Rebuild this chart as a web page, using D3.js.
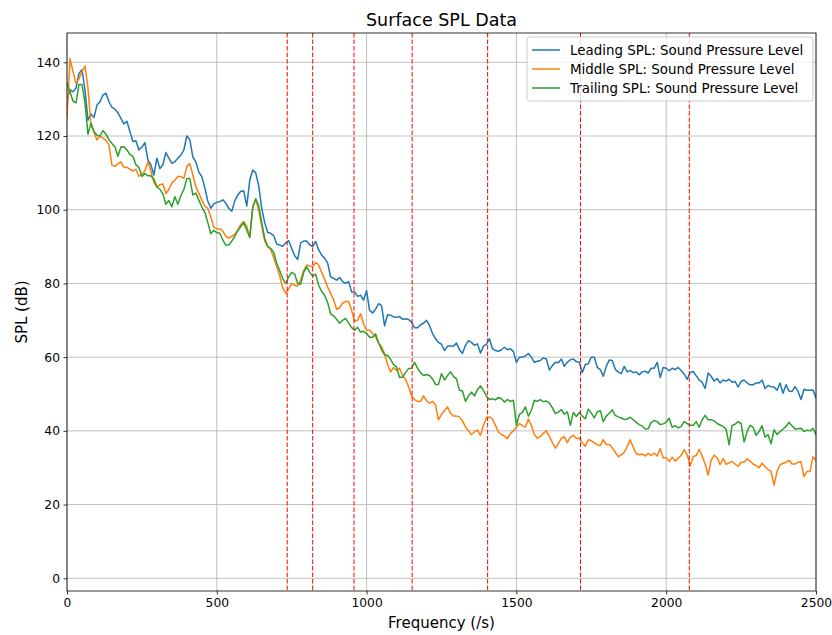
<!DOCTYPE html>
<html>
<head>
<meta charset="utf-8">
<script src="https://cdn.jsdelivr.net/npm/d3@7"></script>
<style>
  body { margin: 0; background: #fff; }
  svg { display: block; font-family: "DejaVu Sans", sans-serif; }
</style>
</head>
<body>
<div id="viz"></div>
<script>
var width = 832,
    height = 635;

var margin = {top: 33, right: 16, bottom: 44, left: 67};

// frequency samples (/s)
var freqs = [
  0, 10, 20, 30, 40, 50, 60, 70, 80, 90,
  100, 110, 120, 130, 140, 150, 160, 170, 180, 190,
  200, 210, 220, 230, 240, 250, 260, 270, 280, 290,
  300, 310, 320, 330, 340, 350, 360, 370, 380, 390,
  400, 410, 420, 430, 440, 450, 460, 470, 480, 490,
  500, 510, 520, 530, 540, 550, 560, 570, 580, 590,
  600, 610, 620, 630, 640, 650, 660, 670, 680, 690,
  700, 710, 720, 730, 740, 750, 760, 770, 780, 790,
  800, 810, 820, 830, 840, 850, 860, 870, 880, 890,
  900, 910, 920, 930, 940, 950, 960, 970, 980, 990,
  1000, 1010, 1020, 1030, 1040, 1050, 1060, 1070, 1080, 1090,
  1100, 1110, 1120, 1130, 1140, 1150, 1160, 1170, 1180, 1190,
  1200, 1210, 1220, 1230, 1240, 1250, 1260, 1270, 1280, 1290,
  1300, 1310, 1320, 1330, 1340, 1350, 1360, 1370, 1380, 1390,
  1400, 1410, 1420, 1430, 1440, 1450, 1460, 1470, 1480, 1490,
  1500, 1510, 1520, 1530, 1540, 1550, 1560, 1570, 1580, 1590,
  1600, 1610, 1620, 1630, 1640, 1650, 1660, 1670, 1680, 1690,
  1700, 1710, 1720, 1730, 1740, 1750, 1760, 1770, 1780, 1790,
  1800, 1810, 1820, 1830, 1840, 1850, 1860, 1870, 1880, 1890,
  1900, 1910, 1920, 1930, 1940, 1950, 1960, 1970, 1980, 1990,
  2000, 2010, 2020, 2030, 2040, 2050, 2060, 2070, 2080, 2090,
  2100, 2110, 2120, 2130, 2140, 2150, 2160, 2170, 2180, 2190,
  2200, 2210, 2220, 2230, 2240, 2250, 2260, 2270, 2280, 2290,
  2300, 2310, 2320, 2330, 2340, 2350, 2360, 2370, 2380, 2390,
  2400, 2410, 2420, 2430, 2440, 2450, 2460, 2470, 2480, 2490,
  2500
];

var leadingSPL = [
  130, 132.5, 132, 133, 137, 138, 132.5, 124.3, 126, 125,
  128.4, 129.3, 131.1, 131.6, 129.3, 127.8, 127.3, 126.3, 124.8, 123.3,
  124, 121.2, 118.5, 118.7, 116.2, 117, 118.2, 113.5, 112.2, 109.4,
  114, 111.2, 112.2, 115.5, 114, 112.6, 113, 114, 114.8, 116.2,
  120, 119, 114.3, 113, 110.2, 109, 106, 102.3, 100.4, 101.6,
  102, 102.2, 102.7, 101.8, 100.4, 99.6, 102.4, 104, 105, 105.1,
  101, 108, 110.8, 110, 106.5, 100.3, 96.5, 93.8, 93.6, 93,
  90.7, 90.4, 90.1, 91, 91.6, 89.5, 87.5, 86.5, 91, 91.5,
  91.5, 90.5, 90, 91.4, 89.1, 87.7, 86.8, 85.5, 81.8, 81.4,
  80.9, 81.6, 80.5, 80, 80.5, 77.7, 77.7, 76.5, 76.8, 75.5,
  78, 72.7, 72, 73, 74.5, 74, 68.5, 71.5, 71.4, 70.9,
  70.8, 71, 70.3, 70.4, 70.2, 69.5, 68, 68, 68.8, 69.2,
  70, 68.6, 66.4, 65, 64, 63.5, 61.8, 63, 63, 63,
  63.8, 62, 61, 63.2, 64.5, 64, 63.2, 63.6, 61.1, 63,
  63.5, 65, 62.3, 61.8, 61.6, 62, 62.7, 62, 62.3, 61.5,
  58.6, 60, 60, 60.3, 61, 60, 58.6, 58.9, 59.1, 59.8,
  59.5, 56.5, 57.7, 58.6, 58.5, 59.5, 57.5, 58.6, 59.3, 59.5,
  58.8, 58.6, 55.8, 58, 58.2, 60, 60, 57.2, 56.6, 54.8,
  57.5, 59.2, 59.1, 56.7, 56, 55.5, 57.5, 56, 56.4, 55.8,
  56, 55.2, 56, 56.2, 55.7, 57, 57, 58.6, 54.5, 57.2,
  57, 56.3, 57, 56.6, 57.2, 56.4, 55.4, 54, 55.8, 56.1,
  55, 53.8, 53.2, 51.5, 55.7, 54.8, 53.5, 54.2, 53, 53.8,
  53.5, 54, 53.2, 53.4, 51.9, 53.4, 53.8, 53, 52.5, 52.5,
  53, 53, 53.8, 51.5, 52.3, 52, 51.9, 51, 53, 50.2,
  52.5, 50.8, 50.7, 52, 50.7, 48.5, 51.3, 51, 51, 51.1,
  49
];

var middleSPL = [
  125, 141, 137.5, 134.3, 135.5, 137.5, 139, 133, 123, 121,
  118.9, 120, 119.4, 118.8, 117.5, 112.1, 111.8, 112.5, 113, 111.5,
  111.5, 111, 110.5, 111, 109.1, 109.6, 110.5, 113, 110.5, 107.4,
  106.2, 106.8, 107, 104.4, 105.5, 107.3, 108, 109, 109, 108.5,
  111.7, 112.5, 109.5, 106.2, 104.5, 102.6, 101, 100.4, 98, 95.2,
  94.8, 94.8, 94.2, 92.8, 92.3, 92.8, 93.3, 94.5, 96, 96.8,
  95.5, 92.5, 101, 102.8, 99.8, 95.4, 91.5, 90, 89.2, 87,
  84.6, 82, 78.8, 77.3, 78.5, 80, 79.5, 79.3, 81, 83.5,
  85, 84.7, 84.5, 85.7, 85, 83, 81.1, 79, 77.3, 75.5,
  73, 73.4, 74.7, 75.1, 75.1, 72.7, 69.8, 70, 71.8, 69,
  67.3, 67.3, 66.4, 65.5, 63.8, 62.8, 61, 58, 56, 57.2,
  56.4, 57, 55, 54, 52, 49.5, 48.5, 48, 48, 49.5,
  48.2, 47.5, 48, 47, 43, 44.5, 45.5, 46.5, 44.8, 44,
  44, 43.8, 42.7, 41.1, 40, 39, 39.7, 40.2, 38.8, 41.5,
  43.5, 43.8, 43.2, 41.5, 39.7, 39, 38.6, 37.9, 39.3, 40,
  41, 42, 41.4, 41, 43.2, 41.5, 39, 38, 38.5, 39.3,
  40, 38.5, 36.8, 35.3, 36.5, 38, 38.4, 36.8, 38.3, 38.8,
  38, 38, 36.8, 35.8, 37.6, 37.3, 36.8, 36.2, 36, 37.6,
  36.3, 36.3, 35.4, 34.2, 33, 33.5, 34.2, 35.8, 37.6, 35.5,
  33.8, 33.5, 33.7, 33.2, 33.9, 33.3, 34, 33.2, 35.2, 32.6,
  32.8, 31.7, 32.8, 31.8, 32.6, 33.3, 34.9, 33.5, 30.5, 33,
  33.3, 35, 33.2, 31, 28, 32, 33.4, 32.7, 30.8, 32.5,
  30.9, 31.3, 31.7, 31, 30.4, 31.5, 31.5, 32.4, 31.8, 31,
  30.6, 30, 31.2, 30.3, 29.5, 29, 25.3, 29, 30.8, 31.2,
  31.5, 32, 31, 31, 31.5, 31.6, 27.6, 29, 29, 33,
  32
];

var trailingSPL = [
  134.3, 132, 129.5, 129, 134, 134, 129, 120.5, 123.5, 121.2,
  120.2, 120, 121.5, 120.5, 119, 118, 117.1, 114.5, 117, 117.1,
  116.2, 115, 114.5, 112.2, 111.5, 109, 109.8, 109.2, 109.2, 108.3,
  106.2, 105.6, 104.3, 101.5, 102.5, 100.8, 103.5, 101.5, 103.8, 105.5,
  108.5, 108.5, 104, 104.5, 102.6, 100.8, 99.3, 96.5, 93.5, 94.4,
  93.8, 93.6, 91.8, 90.4, 90.4, 91.5, 92.8, 94.3, 95.4, 96.5,
  94.5, 92.5, 100.5, 103, 101, 96.5, 92.2, 90, 89.5, 88.5,
  85.5, 83.5, 81.3, 80, 81.8, 83, 82.5, 80, 79.8, 83,
  84.5, 83, 82, 82.5, 79.5, 77.8, 76.8, 74.8, 71.7, 71.2,
  70.3, 69.2, 70, 70.5, 69.3, 68, 67.3, 68.1, 66.8, 67,
  66.4, 65.4, 65.4, 66.3, 63.9, 62, 60.6, 60.5, 59.4, 58,
  57.3, 54.5, 54.6, 55.8, 56.9, 57, 58.6, 57, 55.8, 55,
  55.3, 55, 54.1, 52.6, 52.6, 55.5, 53.8, 55, 56, 54.8,
  54.1, 51, 50.8, 48, 49.5, 50.5, 49.5, 51.2, 52.2, 51,
  49.4, 48.5, 48.7, 48.4, 49.1, 48.7, 47.8, 48.5, 48, 48.3,
  41.5, 44.5, 45, 46.5, 44, 45.6, 48.3, 48, 48.5, 47.9,
  48.1, 47.5, 46.3, 44.7, 45.1, 45.8, 44.5, 45.2, 41.5, 45,
  43.9, 45, 44, 43.3, 45.9, 44.8, 43.5, 45.2, 45.5, 42.5,
  44, 44.8, 45.7, 44.2, 43.8, 43.5, 43.1, 43.2, 43.7, 43,
  42.3, 41.7, 41.3, 40.5, 40.6, 42.3, 42.8, 42.5, 41.7, 41.9,
  42.4, 43.4, 41, 41.4, 40.8, 41.2, 42.5, 42, 41.5, 41.5,
  42.5, 41, 43, 44.2, 43, 43, 42.7, 42, 41.6, 41.2,
  40.4, 36.2, 41.5, 41.8, 42.5, 42, 37, 39.8, 41.5, 41,
  38.8, 39.8, 41.4, 38.3, 39, 36.5, 40.3, 39, 39.8, 40.5,
  41.2, 42.3, 41.4, 40.5, 40.6, 40.7, 39.8, 40.2, 40, 40.7,
  39
];

// frequencies marked with red dashed lines
var markerFreqs = [735, 820, 958, 1152, 1404, 1714, 2077];

var seriesNames = ["Leading SPL: Sound Pressure Level",
    "Middle SPL: Sound Pressure Level",
    "Trailing SPL: Sound Pressure Level"];
var seriesValues = [leadingSPL, middleSPL, trailingSPL];
var colors = ["#1f77b4", "#ff7f0e", "#2ca02c"];

var xTicks = [0, 500, 1000, 1500, 2000, 2500];
var yTicks = [0, 20, 40, 60, 80, 100, 120, 140];

var svg = d3.select("div#viz")
    .append("svg")
    .attr("width", width)
    .attr("height", height);

var innerW = width - margin.left - margin.right,
    innerH = height - margin.top - margin.bottom;

var x = d3.scaleLinear().domain([0, 2500]).range([0, innerW]);
var y = d3.scaleLinear().domain([-3.45, 147.95]).range([innerH, 0]);

var g = svg.append("g")
    .attr("transform", "translate(" + margin.left + "," + margin.top + ")");

// grid
g.append("g").selectAll("line.vg")
    .data(xTicks)
    .enter().append("line")
    .attr("x1", function(d) { return x(d); })
    .attr("x2", function(d) { return x(d); })
    .attr("y1", 0).attr("y2", innerH)
    .attr("stroke", "#b0b0b0").attr("stroke-width", 0.8);

g.append("g").selectAll("line.hg")
    .data(yTicks)
    .enter().append("line")
    .attr("y1", function(d) { return y(d); })
    .attr("y2", function(d) { return y(d); })
    .attr("x1", 0).attr("x2", innerW)
    .attr("stroke", "#b0b0b0").attr("stroke-width", 0.8);

// clip for the lines
svg.append("defs").append("clipPath").attr("id", "plotclip")
    .append("rect").attr("width", innerW).attr("height", innerH);

var line = d3.line()
    .x(function(d, i) { return x(freqs[i]); })
    .y(function(d) { return y(d); });

var lines = g.append("g").attr("clip-path", "url(#plotclip)");

seriesValues.forEach(function(vals, i) {
    lines.append("path")
        .datum(vals)
        .attr("fill", "none")
        .attr("stroke", colors[i])
        .attr("stroke-width", 1.5)
        .attr("stroke-linejoin", "round")
        .attr("stroke-linecap", "square")
        .attr("d", line);
});

// red dashed markers
g.append("g").selectAll("line")
    .data(markerFreqs)
    .enter().append("line")
    .attr("x1", function(d) { return x(d); })
    .attr("x2", function(d) { return x(d); })
    .attr("y1", 0).attr("y2", innerH)
    .attr("stroke", "red")
    .attr("stroke-width", 1)
    .attr("stroke-dasharray", "4.5,2");

// axes
var xAxis = g.append("g")
    .attr("transform", "translate(0," + innerH + ")")
    .call(d3.axisBottom(x).tickValues(xTicks).tickSize(3.5).tickPadding(3.5).tickFormat(d3.format("d")));

var yAxis = g.append("g")
    .call(d3.axisLeft(y).tickValues(yTicks).tickSize(3.5).tickPadding(3.5).tickFormat(d3.format("d")));

[xAxis, yAxis].forEach(function(a) {
    a.select(".domain").remove();
    a.selectAll("text")
        .attr("font-family", "DejaVu Sans, sans-serif")
        .attr("font-size", 12.3)
        .attr("fill", "#000");
    a.selectAll("line").attr("stroke", "#000").attr("stroke-width", 0.8);
});

// frame
g.append("rect")
    .attr("width", innerW).attr("height", innerH)
    .attr("fill", "none").attr("stroke", "#000").attr("stroke-width", 0.8);

// labels
svg.append("text")
    .attr("x", margin.left + innerW / 2).attr("y", 26)
    .attr("text-anchor", "middle")
    .attr("font-size", 17.5)
    .text("Surface SPL Data");

svg.append("text")
    .attr("x", margin.left + innerW / 2).attr("y", 628)
    .attr("text-anchor", "middle")
    .attr("font-size", 15)
    .text("Frequency (/s)");

svg.append("text")
    .attr("transform", "translate(27," + (margin.top + innerH / 2) + ") rotate(-90)")
    .attr("text-anchor", "middle")
    .attr("font-size", 15)
    .text("SPL (dB)");

// legend
var legend = svg.append("g").attr("transform", "translate(527,37)");

legend.append("rect")
    .attr("width", 286).attr("height", 64)
    .attr("rx", 3).attr("ry", 3)
    .attr("fill", "#fff").attr("fill-opacity", 0.8)
    .attr("stroke", "#cccccc").attr("stroke-width", 1);

seriesNames.forEach(function(name, i) {
    var row = legend.append("g").attr("transform", "translate(0," + (13 + i * 19) + ")");
    row.append("line")
        .attr("x1", 5).attr("x2", 33)
        .attr("stroke", colors[i]).attr("stroke-width", 1.5);
    row.append("text")
        .attr("x", 43).attr("y", 5)
        .attr("font-size", 13.4)
        .text(name);
});
</script>
</body>
</html>
